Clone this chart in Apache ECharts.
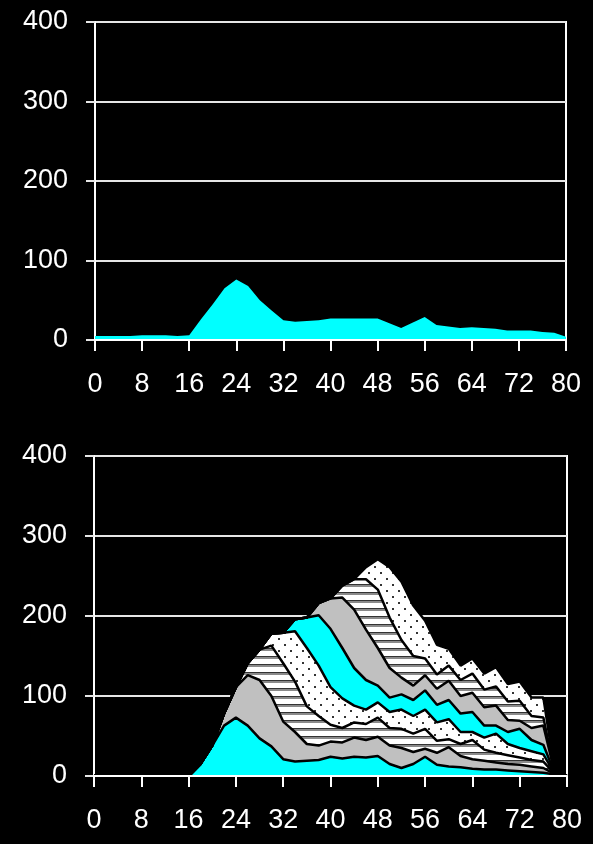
<!DOCTYPE html>
<html>
<head>
<meta charset="utf-8">
<script src="https://cdn.jsdelivr.net/npm/echarts@6/dist/echarts.min.js"></script>
<style>
html,body{margin:0;padding:0;background:#000;}
#c{width:593px;height:844px;}
</style>
</head>
<body>
<div id="c"></div>
<script>
// x positions (0..80 step 2)
const xValues = [0,2,4,6,8,10,12,14,16,18,20,22,24,26,28,30,32,34,36,38,40,42,44,46,48,50,52,54,56,58,60,62,64,66,68,70,72,74,76,78,80];
const yTicks = [0,100,200,300,400];

// top panel series
const topSeries = [5,5,5,5,6,6,6,5,6,26,45,65,76,68,50,37,25,23,24,25,27,27,27,27,27,21,15,22,29,19,17,15,16,15,14,12,12,12,10,9,4];

// bottom panel stacked layers (bottom to top)
const layer1 = [0,0,0,0,0,0,0,0,0,15,38,63,73,63,47,37,21,18,19,20,24,22,24,23,25,15,10,15,24,14,12,11,9,8,8,7,6,5,4,2,0];
const layer2 = [0,0,0,0,0,0,0,0,0,0,0,15,38,63,73,63,47,37,21,18,19,20,24,22,24,23,25,15,10,15,24,14,12,11,9,8,8,7,6,0,0];
const layer3 = [0,0,0,0,0,0,0,0,0,0,0,0,0,15,38,63,73,63,47,37,21,18,19,20,24,22,24,23,25,15,10,15,24,14,12,11,9,8,8,0,0];
const layer4 = [0,0,0,0,0,0,0,0,0,0,0,0,0,0,0,15,38,63,73,63,47,37,21,18,19,20,24,22,24,23,25,15,10,15,24,14,12,11,9,0,0];
const layer5 = [0,0,0,0,0,0,0,0,0,0,0,0,0,0,0,0,0,15,38,63,73,63,47,37,21,18,19,20,24,22,24,23,25,15,10,15,24,14,12,0,0];
const layer6 = [0,0,0,0,0,0,0,0,0,0,0,0,0,0,0,0,0,0,0,15,38,63,73,63,47,37,21,18,19,20,24,22,24,23,25,15,10,15,24,0,0];
const layer7 = [0,0,0,0,0,0,0,0,0,0,0,0,0,0,0,0,0,0,0,0,0,15,38,63,73,63,47,37,21,18,19,20,24,22,24,23,25,15,10,0,0];
const layer8 = [0,0,0,0,0,0,0,0,0,0,0,0,0,0,0,0,0,0,0,0,0,0,0,15,38,63,73,63,47,37,21,18,19,20,24,22,24,23,25,0,0];

function stripes(){
  const c=document.createElement('canvas'); c.width=8; c.height=8;
  const g=c.getContext('2d');
  g.fillStyle='#fff'; g.fillRect(0,0,8,8);
  g.fillStyle='#333'; g.fillRect(0,0,8,1);
  g.fillStyle='#8a8a8a'; g.fillRect(0,1,8,2);
  return {image:c, repeat:'repeat'};
}
function dots(){
  const c=document.createElement('canvas'); c.width=12; c.height=12;
  const g=c.getContext('2d');
  g.fillStyle='#fff'; g.fillRect(0,0,12,12);
  g.fillStyle='#333'; g.fillRect(2,2,2,2); g.fillRect(8,8,2,2);
  return {image:c, repeat:'repeat'};
}

const CYAN='#00ffff', GRAY='#c0c0c0';
const fills=[CYAN, GRAY, stripes(), dots(), CYAN, GRAY, stripes(), dots()];
const layers=[layer1,layer2,layer3,layer4,layer5,layer6,layer7,layer8];

const FONT = {color:'#fff', fontSize:27, fontFamily:'"Liberation Sans", Arial, sans-serif'};

function xAxis(gi){
  return {
    gridIndex:gi, type:'category', data:xValues.map(String), boundaryGap:false, z:10,
    axisLine:{show:true, lineStyle:{color:'#fff', width:2}},
    axisTick:{show:true, length:11, interval:3, lineStyle:{color:'#fff', width:2}},
    axisLabel:Object.assign({margin:31, interval:3}, FONT),
    splitLine:{show:false}
  };
}
function yAxis(gi){
  return {
    gridIndex:gi, type:'value', min:0, max:400, interval:100,
    axisLine:{show:true, lineStyle:{color:'#fff', width:2}},
    axisTick:{show:true, length:9, lineStyle:{color:'#e6e6e6', width:2}},
    axisLabel:Object.assign({margin:27, formatter:v=>yTicks.includes(v)?String(v):''}, FONT),
    splitLine:{show:true, lineStyle:{color:'#e6e6e6', width:2}}
  };
}

const series=[{
  type:'line', xAxisIndex:0, yAxisIndex:0, data:topSeries,
  symbol:'none', lineStyle:{width:0, color:CYAN}, areaStyle:{color:CYAN, opacity:1}, z:2
}];
layers.forEach((ly,k)=>{
  series.push({
    type:'line', xAxisIndex:1, yAxisIndex:1, data:ly, stack:'s',
    symbol:'none', lineStyle:{width:2.5, color:'#000'},
    areaStyle:{color:fills[k], opacity:1}, z:2
  });
});

const chart=echarts.init(document.getElementById('c'), null, {renderer:'canvas'});
chart.setOption({
  backgroundColor:'#000',
  animation:false,
  grid:[
    {left:95, top:22, width:471, height:318, show:true, borderColor:'#fff', borderWidth:2, backgroundColor:'transparent'},
    {left:94, top:456, width:473, height:320, show:true, borderColor:'#fff', borderWidth:2, backgroundColor:'transparent'}
  ],
  xAxis:[xAxis(0), xAxis(1)],
  yAxis:[yAxis(0), yAxis(1)],
  series:series
});
</script>
</body>
</html>
